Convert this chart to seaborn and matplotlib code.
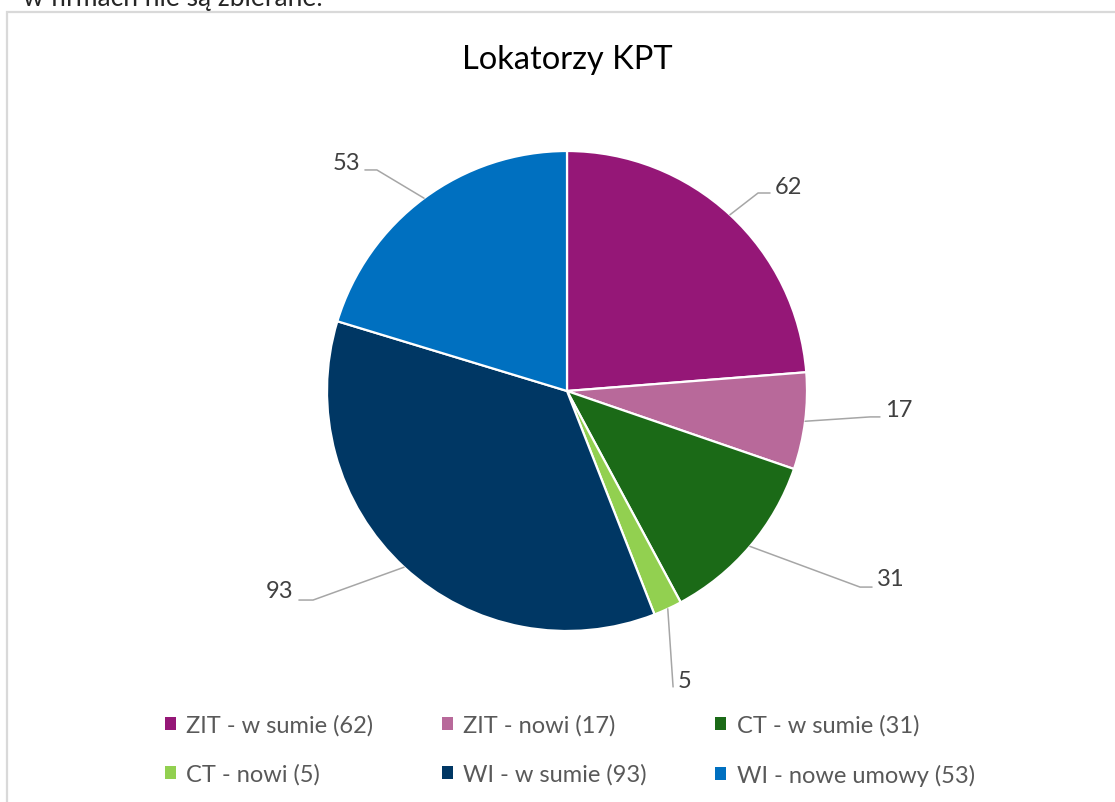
import matplotlib
matplotlib.use("Agg")
import numpy as np
import matplotlib.pyplot as plt
import seaborn as sns
from matplotlib.patches import Patch, Rectangle

# data
categories = ["ZIT - w sumie", "ZIT - nowi", "CT - w sumie", "CT - nowi", "WI - w sumie", "WI - nowe umowy"]
values = [62, 17, 31, 5, 93, 53]
colors = ["#951777", "#B8699A", "#1B6A17", "#92D050", "#003764", "#0070C0"]

# where each data label sits (radius units): elbow, line end, text pos, alignment
label_elbow = [(0.796, 0.825), (1.2625, -0.108), (1.221, -0.817), (0.442, -1.233), (-1.058, -0.871), (-0.792, 0.921)]
label_end = [(0.846, 0.825), (1.304, -0.108), (1.271, -0.817), (0.442, -1.233), (-1.117, -0.871), (-0.842, 0.921)]
label_text = [(0.867, 0.854), (1.325, -0.079), (1.292, -0.783), (0.4625, -1.208), (-1.142, -0.833), (-0.8625, 0.954)]
label_ha = ["left", "left", "left", "left", "right", "right"]

sns.set_style("white")
plt.rcParams["font.family"] = ["Lato", "DejaVu Sans"]

W, H = 1115, 803
fig = plt.figure(figsize=(W / 100, H / 100), dpi=100)

# chart border (cut off on the right and bottom like the screenshot)
fig.patches.append(Rectangle((7 / W, -0.1), 1.2, 1.1 - 13 / H, transform=fig.transFigure,
                             fill=False, edgecolor="#D9D9D9", linewidth=1.6))

# piece of the document text above the chart (cut off in the screenshot)
fig.text(23 / W, 1 - 6 / H, "w firmach nie są zbierane.", fontsize=19, color="#262626",
         ha="left", va="baseline")

cx, cy, r = 567, 392, 240
ax = fig.add_axes([(cx - r) / W, (H - cy - r) / H, 2 * r / W, 2 * r / H])
wedges, _ = ax.pie(values, colors=colors, startangle=90, counterclock=False, radius=1,
                   wedgeprops=dict(edgecolor="white", linewidth=1.6))
ax.set_xlim(-1, 1)
ax.set_ylim(-1, 1)
ax.set_aspect("equal")
ax.axis("off")

# leader lines + data labels
for i, w in enumerate(wedges):
    mid = np.deg2rad((w.theta1 + w.theta2) / 2)
    sx, sy = np.cos(mid), np.sin(mid)
    ex, ey = label_elbow[i]
    fx, fy = label_end[i]
    ax.plot([sx, ex, fx], [sy, ey, fy], color="#A6A6A6", linewidth=1.1, clip_on=False)
    tx, ty = label_text[i]
    ax.text(tx, ty, str(values[i]), ha=label_ha[i], va="center", fontsize=17,
            color="#404040", clip_on=False)

fig.text(cx / W, 1 - 60 / H, "Lokatorzy KPT", ha="center", va="center", fontsize=23.5, color="#000000")

# legend, row-major order like Excel
handles = [Patch(facecolor=c, edgecolor="none") for c in colors]
labels = [f"{c} ({v})" for c, v in zip(categories, values)]
order = [0, 3, 1, 4, 2, 5]
leg = fig.legend([handles[i] for i in order], [labels[i] for i in order], ncol=3,
                 loc="center", bbox_to_anchor=(570 / W, 1 - 751 / H), frameon=False,
                 fontsize=17, handlelength=0.45, handleheight=0.45, handletextpad=0.45,
                 columnspacing=2.9, labelspacing=1.17)
for t in leg.get_texts():
    t.set_color("#595959")

fig.savefig("out.png", dpi=100)
